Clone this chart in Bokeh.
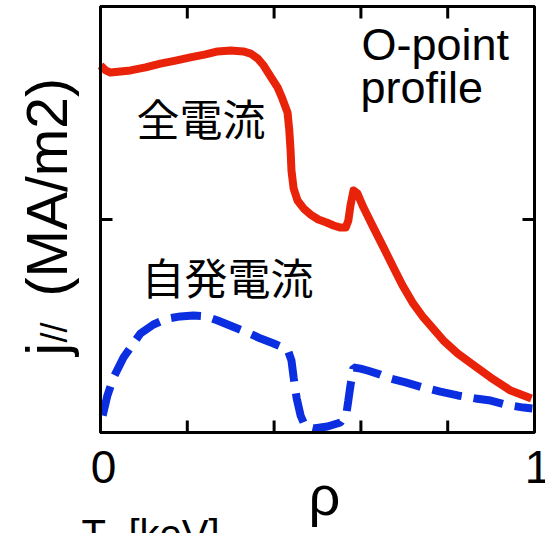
import math
from bokeh.plotting import figure
from bokeh.models import Range1d, Label
from bokeh.embed import file_html
from bokeh.resources import INLINE

# ---- data ----
rho_total = [0.000, 0.012, 0.023, 0.046, 0.069, 0.104, 0.138, 0.173, 0.207, 0.242,
             0.270, 0.300, 0.329, 0.346, 0.362, 0.376, 0.392, 0.408, 0.419, 0.431,
             0.435, 0.438, 0.440, 0.445, 0.454, 0.468, 0.484, 0.502, 0.521, 0.537,
             0.553, 0.565, 0.571, 0.576, 0.583, 0.592, 0.606, 0.629, 0.652, 0.675,
             0.696, 0.719, 0.744, 0.790, 0.823, 0.864, 0.899, 0.945, 0.993]
j_total = [1.723, 1.700, 1.690, 1.695, 1.700, 1.714, 1.732, 1.746, 1.761, 1.775,
           1.789, 1.793, 1.789, 1.779, 1.756, 1.723, 1.671, 1.620, 1.568, 1.502,
           1.418, 1.324, 1.230, 1.146, 1.089, 1.052, 1.023, 1.000, 0.986, 0.972,
           0.962, 0.962, 0.995, 1.066, 1.136, 1.122, 1.056, 0.962, 0.869, 0.775,
           0.690, 0.610, 0.540, 0.432, 0.371, 0.310, 0.258, 0.197, 0.160]

rho_bs = [0.005, 0.016, 0.030, 0.053, 0.092, 0.122, 0.154, 0.184, 0.214, 0.242,
          0.270, 0.304, 0.339, 0.369, 0.399, 0.431, 0.440, 0.445, 0.452, 0.461,
          0.472, 0.491, 0.523, 0.553, 0.567, 0.571, 0.576, 0.583, 0.599, 0.615,
          0.645, 0.668, 0.703, 0.744, 0.783, 0.823, 0.864, 0.899, 0.933, 0.975, 0.995]
j_bs = [0.080, 0.174, 0.258, 0.352, 0.465, 0.507, 0.535, 0.545, 0.549, 0.545,
        0.526, 0.498, 0.469, 0.441, 0.418, 0.390, 0.338, 0.258, 0.160, 0.080,
        0.028, 0.019, 0.028, 0.047, 0.094, 0.150, 0.221, 0.305, 0.300, 0.291,
        0.272, 0.254, 0.235, 0.211, 0.192, 0.174, 0.160, 0.150, 0.131, 0.117, 0.113]

x_lim = [0.0, 1.0]
y_lim = [0.0, 2.0]
x_ticks = [0, 0.2, 0.4, 0.6, 0.8, 1.0]
y_ticks = [0, 1, 2]
x_tick_values = [0, 1]
x_tick_labels = ["0", "1"]

RED = "#e8230a"
BLUE = "#0a2ee0"
SANS = "Liberation Sans"
CJK = "Noto Sans CJK JP"

W, H = 545, 533
# pixel placement of the plot box inside the page
PX_L, PX_R, PX_T, PX_B = 100, 534, 6, 432
SX = (PX_R - PX_L) / (x_lim[1] - x_lim[0])
SY = (PX_B - PX_T) / (y_lim[1] - y_lim[0])


def X(px):
    return x_lim[0] + (px - PX_L) / SX


def Y(py):
    return y_lim[0] + (PX_B - py) / SY


p = figure(width=W, height=H, output_backend="svg", toolbar_location=None,
           x_range=Range1d(X(0), X(W)), y_range=Range1d(Y(H), Y(0)),
           x_axis_location=None, y_axis_location=None,
           min_border=0, min_border_left=0, min_border_right=0,
           min_border_top=0, min_border_bottom=0)
p.xgrid.visible = False
p.ygrid.visible = False
p.outline_line_color = None
p.background_fill_color = "white"
p.border_fill_color = "white"

# curves
p.line(rho_total, j_total, line_color=RED, line_width=8, line_join="round")
p.line(rho_bs, j_bs, line_color=BLUE, line_width=8, line_dash="30 12")

# plot box and inward ticks
TX = 12 / SX
TY = 12 / SY
p.quad(left=[x_lim[0]], right=[x_lim[1]], bottom=[y_lim[0]], top=[y_lim[1]],
       fill_color=None, line_color="black", line_width=3)
p.segment(x0=x_ticks, x1=x_ticks, y0=[y_lim[0]] * len(x_ticks),
          y1=[y_lim[0] + TY] * len(x_ticks), line_color="black", line_width=3)
p.segment(x0=x_ticks, x1=x_ticks, y0=[y_lim[1]] * len(x_ticks),
          y1=[y_lim[1] - TY] * len(x_ticks), line_color="black", line_width=3)
p.segment(x0=[x_lim[0]] * len(y_ticks), x1=[x_lim[0] + TX] * len(y_ticks),
          y0=y_ticks, y1=y_ticks, line_color="black", line_width=3)
p.segment(x0=[x_lim[1]] * len(y_ticks), x1=[x_lim[1] - TX] * len(y_ticks),
          y0=y_ticks, y1=y_ticks, line_color="black", line_width=3)


def lab(text, x, y, size, font=SANS, align="left", angle=0.0, xoff=0):
    p.add_layout(Label(x=x, y=y, text=text, text_font=font, x_offset=xoff,
                       text_font_size=size, text_align=align,
                       text_baseline="middle", text_color="black", angle=angle))

# tick labels (0 and 1 only)
for v, t in zip(x_tick_values, x_tick_labels):
    lab(t, v, Y(466), "46px", align="center", xoff=3)

lab("全電流", X(136), Y(116), "43px", font=CJK)
lab("自発電流", X(141), Y(275), "43px", font=CJK)
lab("O-point", X(361), Y(44), "45px")
lab("profile", X(360), Y(87), "45px")
lab("ρ", X(324), Y(495), "56px", align="center")
lab("T", X(81), Y(533), "40px")
lab("e", X(105), Y(545), "28px")
lab("[keV]", X(128), Y(533), "40px")
lab("j", X(46), Y(355), "57px", angle=math.pi / 2)
lab("//", X(54), Y(342), "36px", angle=math.pi / 2)
lab("(MA/m2)", X(46), Y(296), "57px", angle=math.pi / 2)

open("out.html", "w").write(file_html(p, INLINE))
